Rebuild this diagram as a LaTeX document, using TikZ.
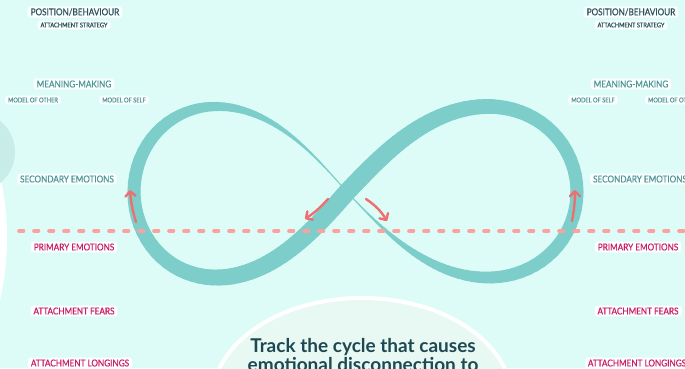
\documentclass[tikz,border=0pt]{standalone}
\usepackage{fontspec}
\setmainfont{Lato}
\newfontfamily\lblfont[FakeStretch=0.86, FakeBold=0.4]{Lato}
\usepackage{xcolor}
\usetikzlibrary{arrows.meta}
\usetikzlibrary{math}
\definecolor{qbg}{RGB}{222,252,247}
\definecolor{qband}{RGB}{125,206,202}
\definecolor{qarrow}{RGB}{236,112,112}
\definecolor{qdash}{RGB}{250,162,160}
\definecolor{qdark}{RGB}{42,82,92}
\definecolor{qmid}{RGB}{76,150,150}
\definecolor{qpink}{RGB}{204,28,100}
\definecolor{qpale}{RGB}{232,248,243}
\definecolor{qside}{RGB}{200,236,232}
\definecolor{qtext}{RGB}{30,72,82}

\tikzset{
 lbl/.style={fill=white, fill opacity=0.9, text opacity=1, rounded corners=3pt, inner xsep=3pt, inner ysep=2pt},
 lblbig/.style={lbl, font=\lblfont\fontsize{9.5}{11}\selectfont},
 lblsmall/.style={lbl, font=\lblfont\fontsize{6.6}{8}\selectfont},
 band/.style={qband, line cap=round},
 flow/.style={qarrow, line width=2.4pt, line cap=round, -{Straight Barb[length=5pt,width=10pt,line cap=round,line join=round]}},
 trk/.style={text=qtext, font=\fontsize{19}{22}\selectfont\bfseries},
}

\begin{document}
\begin{tikzpicture}[x=1pt,y=-1pt]

\tikzmath{
\picW = 685; \picH = 368;
\cx = 347; \cy = 192;
\aL = 213; \aR = 230; \bh = 242;
}

%background:
\fill[qbg] (0,0) rectangle (\picW,\picH);
\useasboundingbox (0,0) rectangle (\picW,\picH);
\clip (0,0) rectangle (\picW,\picH);

%left edge
\fill[white] (-200,238) ellipse [x radius=207pt, y radius=240pt];
\fill[qside] (-25,152) circle [radius=40pt];

%infinity band:
\foreach \ang in {0,2,...,360}{
  \tikzmath{\cosv = cos(\ang); \sinv = sin(\ang); \rad = \aL + (\aR-\aL)*greater(\cosv,0); \den = 1 + \sinv*\sinv;}
  \coordinate (b\ang) at ({\cx + \rad*\cosv/\den}, {\cy - \bh*\sinv*\cosv/\den});
}
\foreach \ang [evaluate=\ang as \nxt using int(\ang+2)] in {0,2,...,358}{
  \tikzmath{\sinv = sin(\ang+1); \cosv = cos(\ang+1); \pp = max(\sinv,0); \nn = max(-\sinv,0); \rr = greater(\cosv,0);
    \wid = 13 + \rr*(5*\pp*\pp - 12*\nn*\nn*\nn*\nn) + (1-\rr)*(5*\pp - 12*\nn*\nn);}
  \draw[band, line width=\wid] (b\ang) -- (b\nxt);
}

%dashed line
\coordinate (dl) at (19,231);
\coordinate (dr) at (\picW+5,231);
\draw[qdash, line width=3.6pt, line cap=round, dash pattern=on 4.5pt off 10.5pt] (dl) -- (dr);

%arrows
\coordinate (a1s) at (136,222); \coordinate (a1e) at (130,190);
\coordinate (a2s) at (328,199); \coordinate (a2e) at (305,219);
\coordinate (a3s) at (366,199); \coordinate (a3e) at (387,221);
\coordinate (a4s) at (572,221); \coordinate (a4e) at (575,190);
\draw[flow] (a1s) to[bend left=6] (a1e);
\draw[flow] (a2s) to[bend left=7] (a2e);
\draw[flow] (a3s) to[bend left=12] (a3e);
\draw[flow] (a4s) to[bend right=5] (a4e);

%bottom oval
\coordinate (ov) at (362,400);
\draw[white, line width=4pt, fill=qpale] (ov) ellipse [x radius=150pt, y radius=102pt];
\node[trk, anchor=base] (trk1) at (363,352) {Track the cycle that causes};
\node[trk, anchor=base] (trk2) at (363,371.5) {emotional disconnection to};

%labels left
\node[lblbig, text=qdark] (posL) at (75,12) {POSITION/BEHAVIOUR};
\node[lblsmall, text=qdark] (strL) at (74,25) {ATTACHMENT STRATEGY};
\node[lblbig, text=qmid] (meanL) at (74,84) {MEANING-MAKING};
\node[lblsmall, text=qmid] (othL) at (33,100) {MODEL OF OTHER};
\node[lblsmall, text=qmid] (slfL) at (124,100) {MODEL OF SELF};
\node[lblbig, text=qmid] (secL) at (67,179) {SECONDARY EMOTIONS};
\node[lblbig, text=qpink] (priL) at (74,247) {PRIMARY EMOTIONS};
\node[lblbig, text=qpink] (fearL) at (74,311) {ATTACHMENT FEARS};
\node[lblbig, text=qpink] (longL) at (80,363) {ATTACHMENT LONGINGS};

%labels right
\node[lblbig, text=qdark] (posR) at (631,12) {POSITION/BEHAVIOUR};
\node[lblsmall, text=qdark] (strR) at (631,25) {ATTACHMENT STRATEGY};
\node[lblbig, text=qmid] (meanR) at (631,84) {MEANING-MAKING};
\node[lblsmall, text=qmid] (slfR) at (593,100) {MODEL OF SELF};
\node[lblsmall, text=qmid] (othR) at (673,100) {MODEL OF OTHER};
\node[lblbig, text=qmid] (secR) at (640,179) {SECONDARY EMOTIONS};
\node[lblbig, text=qpink] (priR) at (638,247) {PRIMARY EMOTIONS};
\node[lblbig, text=qpink] (fearR) at (638,311) {ATTACHMENT FEARS};
\node[lblbig, text=qpink] (longR) at (637,363) {ATTACHMENT LONGINGS};

\end{tikzpicture}
\end{document}
